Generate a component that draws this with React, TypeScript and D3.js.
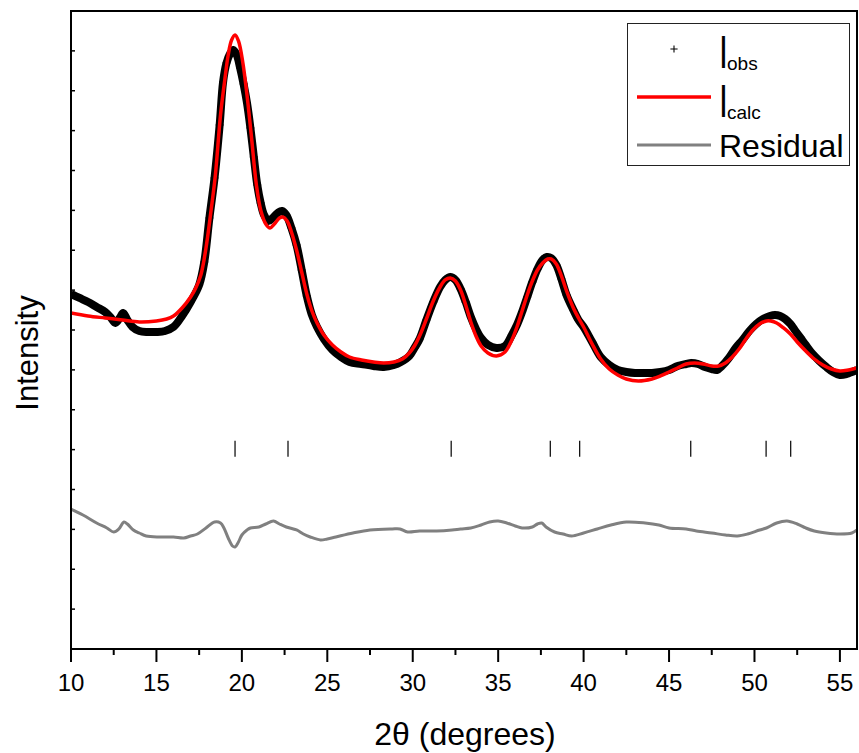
import React from "react";
import * as d3 from "d3";

// ---- data (2θ in degrees, intensity in arbitrary units) ----
const obsTheta = [
  10.0, 10.5, 11.0, 11.5, 12.0, 12.3, 12.6, 12.85, 13.05, 13.3, 13.6, 14.0, 14.5, 15.0, 15.5, 16.0, 16.5, 17.0, 17.5, 17.8,
  18.1, 18.4, 18.7, 18.9, 19.1, 19.3, 19.5, 19.7, 19.9, 20.1, 20.3, 20.5, 20.7, 20.9, 21.1, 21.3, 21.55, 21.8, 22.1, 22.35,
  22.6, 22.9, 23.2, 23.5, 23.8, 24.1, 24.4, 24.8, 25.3, 25.8, 26.3, 27.0, 27.7, 28.3, 28.9, 29.3, 29.8, 30.1, 30.4, 30.8,
  31.2, 31.6, 31.9, 32.2, 32.5, 32.8, 33.1, 33.4, 33.7, 34.0, 34.4, 34.9, 35.4, 35.8, 36.1, 36.4, 36.7, 37.0, 37.3, 37.6,
  37.85, 38.1, 38.4, 38.7, 39.0, 39.4, 39.7, 40.0, 40.5, 41.0, 41.5, 42.0, 42.5, 43.0, 43.5, 44.0, 44.5, 45.0, 45.5, 46.0,
  46.3, 46.7, 47.1, 47.5, 47.8, 48.1, 48.5, 48.9, 49.3, 49.7, 50.1, 50.5, 50.9, 51.2, 51.5, 51.8, 52.1, 52.4, 52.7, 53.0,
  53.4, 53.8, 54.2, 54.6, 55.0, 55.4, 55.7, 56.0,
];
const obsIntensity = [
  8903, 8803, 8703, 8577, 8452, 8327, 8176, 8301, 8427, 8251, 8076, 7975, 7950, 7950, 7975, 8076, 8352, 8703, 9129, 9706,
  10809, 11813, 13142, 14220, 14697, 14923, 15023, 14898, 14571, 14170, 13694, 13067, 12339, 11637, 11186, 10885, 10734, 10809, 10935, 10985,
  10885, 10559, 10132, 9505, 8853, 8377, 8076, 7775, 7499, 7323, 7198, 7148, 7098, 7073, 7123, 7198, 7348, 7549, 7775, 8251,
  8703, 9079, 9255, 9330, 9255, 9029, 8703, 8327, 8026, 7800, 7624, 7549, 7599, 7875, 8126, 8452, 8828, 9204, 9530, 9756,
  9831, 9806, 9631, 9280, 8878, 8502, 8251, 8076, 7700, 7323, 7123, 6997, 6947, 6922, 6922, 6922, 6947, 6997, 7098, 7148,
  7173, 7148, 7073, 7022, 6997, 7098, 7298, 7549, 7750, 7975, 8151, 8276, 8352, 8377, 8352, 8276, 8151, 7975, 7800, 7624,
  7399, 7223, 7073, 6947, 6872, 6897, 6947, 6997,
];

const calcTheta = [
  10.0, 11.0, 12.0, 13.0, 14.0, 15.0, 15.6, 16.0, 16.5, 17.0, 17.3, 17.6, 17.9, 18.2, 18.45, 18.75, 19.0, 19.2, 19.4, 19.6,
  19.8, 20.05, 20.3, 20.55, 20.85, 21.1, 21.4, 21.65, 21.9, 22.2, 22.4, 22.65, 22.9, 23.2, 23.5, 23.8, 24.1, 24.4, 24.8, 25.3,
  25.8, 26.3, 27.0, 27.7, 28.3, 28.9, 29.4, 29.8, 30.1, 30.4, 30.8, 31.2, 31.6, 31.9, 32.2, 32.5, 32.8, 33.1, 33.4, 33.7,
  34.0, 34.4, 34.9, 35.4, 35.8, 36.1, 36.4, 36.7, 37.0, 37.3, 37.6, 37.9, 38.1, 38.4, 38.7, 39.0, 39.4, 39.7, 40.0, 40.5,
  41.0, 41.5, 42.0, 42.5, 43.2, 44.0, 44.5, 45.0, 45.5, 46.0, 46.5, 47.0, 47.5, 47.9, 48.3, 48.7, 49.1, 49.5, 49.9, 50.3,
  50.7, 50.95, 51.3, 51.7, 52.1, 52.5, 53.0, 53.5, 54.0, 54.5, 55.0, 55.5, 56.0,
];
const calcIntensity = [
  8427, 8352, 8301, 8251, 8201, 8226, 8276, 8352, 8552, 8828, 9054, 9380, 10057, 11010, 11888, 13393, 14271, 14898, 15274, 15399,
  15249, 14722, 13894, 12891, 11637, 11010, 10659, 10559, 10659, 10809, 10835, 10734, 10458, 10007, 9455, 8903, 8477, 8176, 7875, 7624,
  7449, 7323, 7248, 7198, 7173, 7198, 7273, 7424, 7599, 7850, 8276, 8728, 9079, 9255, 9305, 9229, 9004, 8627, 8201, 7850,
  7599, 7424, 7348, 7449, 7750, 8076, 8477, 8878, 9229, 9505, 9681, 9781, 9781, 9656, 9355, 8979, 8552, 8301, 8076, 7649,
  7273, 7022, 6872, 6772, 6721, 6772, 6847, 6947, 7047, 7148, 7173, 7148, 7098, 7098, 7173, 7323, 7524, 7775, 8000, 8151,
  8226, 8226, 8176, 8051, 7900, 7700, 7474, 7273, 7123, 7022, 6972, 6997, 7047,
];

const residTheta = [
  10.0, 10.7, 11.5, 12.1, 12.5, 12.8, 13.1, 13.3, 13.65, 14.0, 14.4, 15.2, 16.0, 16.6, 17.0, 17.4, 17.9, 18.4, 18.75, 18.95,
  19.2, 19.45, 19.6, 19.8, 20.0, 20.3, 20.5, 21.0, 21.4, 21.85, 22.2, 22.6, 23.2, 23.6, 24.0, 24.6, 25.0, 25.5, 26.5, 27.5,
  28.8, 29.25, 29.7, 30.4, 31.4, 32.3, 32.8, 33.4, 34.0, 34.5, 35.0, 35.5, 36.0, 36.4, 37.0, 37.3, 37.55, 37.8, 38.3, 38.8,
  39.3, 40.0, 40.8, 41.6, 42.5, 43.6, 44.4, 45.0, 46.0, 46.6, 47.5, 48.3, 49.0, 49.6, 50.3, 50.7, 51.3, 51.9, 52.5, 53.0,
  53.5, 54.2, 55.0, 55.7, 56.0,
];
const residIntensity = [
  3511, 3361, 3160, 3035, 2934, 3010, 3185, 3135, 2985, 2909, 2834, 2809, 2809, 2784, 2834, 2884, 3035, 3185, 3160, 3035,
  2784, 2583, 2558, 2684, 2859, 2985, 3035, 3060, 3135, 3210, 3135, 3060, 2985, 2884, 2809, 2734, 2759, 2809, 2909, 2985,
  3010, 3010, 2934, 2959, 2959, 2985, 3010, 3035, 3110, 3185, 3210, 3160, 3085, 3035, 3060, 3135, 3160, 3060, 2934, 2884,
  2834, 2909, 3010, 3110, 3185, 3160, 3110, 3035, 3010, 2959, 2909, 2859, 2834, 2884, 2985, 3035, 3160, 3210, 3135, 3035,
  2959, 2909, 2884, 2909, 2985,
];

const braggPositions = [19.6, 22.7, 32.25, 38.05, 39.77, 46.27, 50.68, 52.12];
const braggLevel = 5020;

const xMajorTicks = [10, 15, 20, 25, 30, 35, 40, 45, 50, 55];
const xMinorTicks = [12.5, 17.5, 22.5, 27.5, 32.5, 37.5, 42.5, 47.5, 52.5];
const xDomain = [10, 56];
const yDomain = [0, 16000];

const xTitle = "2θ (degrees)";
const yTitle = "Intensity";

// ---- layout ----
const W = 859;
const H = 753;
const L = 71;
const R = 857;
const T = 11;
const B = 649;
const FONT = "'Liberation Sans', Arial, Helvetica, sans-serif";

function zip(a: number[], b: number[]): [number, number][] {
  return a.map((v, i) => [v, b[i]] as [number, number]);
}

export default function App() {
  const x = d3.scaleLinear().domain(xDomain).range([L, R]);
  const y = d3.scaleLinear().domain(yDomain).range([B, T]);
  const line = d3
    .line<[number, number]>()
    .x((d) => x(d[0]))
    .y((d) => y(d[1]))
    .curve(d3.curveCatmullRom.alpha(0.5));

  const obs = zip(obsTheta, obsIntensity);
  const calc = zip(calcTheta, calcIntensity);
  const resid = zip(residTheta, residIntensity);
  const yTicks = y.ticks(16);
  const plus = "M-4,0H4M0,-4V4";

  return (
    <svg
      width={W}
      height={H}
      viewBox={`0 0 ${W} ${H}`}
      style={{ position: "absolute", left: 0, top: 0, background: "#fff" }}
      fontFamily={FONT}
    >
      <defs>
        <clipPath id="plotClip">
          <rect x={L} y={T} width={R - L} height={B - T} />
        </clipPath>
      </defs>
      <rect x={0} y={0} width={W} height={H} fill="#fff" />

      <g clipPath="url(#plotClip)">
        {/* observed: dense + markers forming a band */}
        <path d={line(obs) || ""} fill="none" stroke="#000" strokeWidth={8} strokeLinejoin="round" />
        <g stroke="#000" strokeWidth={1}>
          {obs.map((d, i) => (
            <path key={i} d={plus} transform={`translate(${x(d[0])},${y(d[1])})`} />
          ))}
        </g>
        {/* calculated */}
        <path d={line(calc) || ""} fill="none" stroke="#ff0000" strokeWidth={3.5} strokeLinejoin="round" />
        {/* residual */}
        <path d={line(resid) || ""} fill="none" stroke="#808080" strokeWidth={3} strokeLinejoin="round" />
        {/* Bragg positions */}
        <g stroke="#000" strokeWidth={1.2}>
          {braggPositions.map((p, i) => (
            <line key={i} x1={x(p)} x2={x(p)} y1={y(braggLevel) - 8} y2={y(braggLevel) + 8} />
          ))}
        </g>
      </g>

      {/* frame */}
      <g stroke="#000" strokeWidth={2} fill="none">
        <line x1={L} x2={R} y1={T} y2={T} />
        <line x1={R} x2={R} y1={T - 1} y2={B + 1} />
        <line x1={L} x2={L} y1={T - 1} y2={B + 1} />
        <line x1={L - 1} x2={R + 1} y1={B} y2={B} />
      </g>

      {/* y ticks (inward, unlabeled) */}
      <g stroke="#000" strokeWidth={1.5}>
        {yTicks.map((t) => (
          <line key={t} x1={L} x2={L + 4} y1={y(t)} y2={y(t)} />
        ))}
      </g>

      {/* x ticks */}
      <g stroke="#000" strokeWidth={2}>
        {xMajorTicks.map((t) => (
          <line key={t} x1={x(t)} x2={x(t)} y1={B} y2={B + 13} />
        ))}
        {xMinorTicks.map((t) => (
          <line key={t} x1={x(t)} x2={x(t)} y1={B} y2={B + 6} />
        ))}
      </g>
      <g fontSize={24} textAnchor="middle" fill="#000">
        {xMajorTicks.map((t) => (
          <text key={t} x={x(t)} y={691}>
            {t}
          </text>
        ))}
      </g>

      {/* axis titles */}
      <text x={465} y={745} fontSize={32} textAnchor="middle" fill="#000">
        {xTitle}
      </text>
      <text transform={`translate(38,353) rotate(-90)`} fontSize={31} textAnchor="middle" fill="#000">
        {yTitle}
      </text>

      {/* legend */}
      <rect x={627.5} y={23.5} width={222} height={142} fill="#fff" stroke="#222" strokeWidth={1} />
      <path d={plus} transform="translate(674,49) scale(0.9)" stroke="#000" strokeWidth={1.2} />
      <line x1={637} x2={711} y1={97} y2={97} stroke="#ff0000" strokeWidth={3.5} />
      <line x1={637} x2={711} y1={145} y2={145} stroke="#808080" strokeWidth={3} />
      <g fill="#000">
        <text transform="translate(719,68) scale(1,1.42)" fontSize={32}>I</text>
        <text x={727} y={70} fontSize={19}>obs</text>
        <text transform="translate(719,117) scale(1,1.42)" fontSize={32}>I</text>
        <text x={727} y={119} fontSize={19}>calc</text>
        <text x={719} y={157} fontSize={32}>Residual</text>
      </g>
    </svg>
  );
}
